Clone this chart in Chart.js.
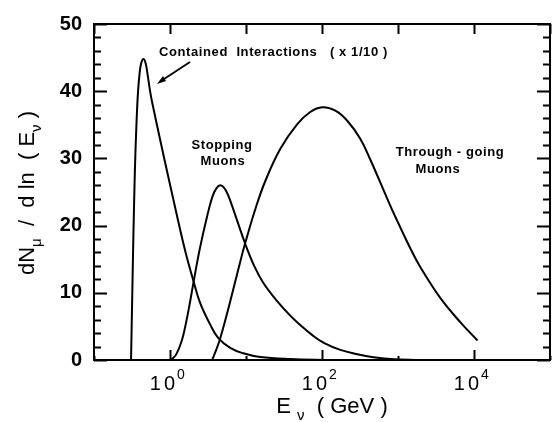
<!DOCTYPE html>
<html>
<head>
<meta charset="utf-8">
<script src="https://cdn.jsdelivr.net/npm/chart.js@4.4.0/dist/chart.umd.min.js"></script>
<style>
  body { margin: 0; background: #fff; }
  #wrap { width: 552px; height: 422px; }
</style>
</head>
<body>
<div id="wrap"><canvas id="c" width="552" height="422"></canvas></div>
<script>
// energies in GeV, values of dN/dln(E)
var containedE = [0.307, 0.3167, 0.3265, 0.3365, 0.3468, 0.3575, 0.3685, 0.3799, 0.3977, 0.4161, 0.4461, 0.477, 0.5068, 0.5468, 0.5809, 0.697, 0.862, 1.24, 1.58, 2.03, 2.49, 3.37, 4.30, 6.19, 9.19, 15.4, 38.2, 128];
var containedN = [0, 8, 16, 23, 29, 33.5, 37.2, 40, 42.6, 44.1, 44.8, 44.2, 42.5, 40.0, 38.4, 34.2, 29.4, 21.4, 16.3, 11.8, 8.5, 5.3, 3.3, 1.8, 1.0, 0.45, 0.15, 0];

var stoppingE = [1.034, 1.203, 1.431, 1.63, 1.84, 2.141, 2.493, 3.053, 3.587, 4.05, 4.572, 5.162, 5.829, 6.58, 7.892, 9.761, 12.82, 16.85, 25.53, 38.22, 51.78, 74.5, 107.2, 174.2, 291.8, 474.1, 794, 1973];
var stoppingN = [0, 0.8, 2.9, 5.6, 8.7, 12.9, 16.8, 21.2, 24.2, 25.5, 26.0, 25.6, 24.5, 22.9, 20.3, 17.3, 14.0, 11.5, 8.8, 6.6, 5.2, 3.7, 2.5, 1.5, 0.85, 0.4, 0.15, 0];

var throughE = [3.587, 4.05, 4.572, 6.193, 8.388, 9.761, 13.22, 17.9, 28.2, 47.3, 70.1, 101, 150, 215, 320, 433, 586, 818, 1076, 1456, 1972, 3619, 6637, 11120];
var throughN = [0, 1.5, 3.2, 8.7, 14.6, 17.4, 22.4, 26.6, 31.4, 35.1, 36.9, 37.6, 37.1, 35.6, 32.9, 29.8, 26.4, 22.6, 19.7, 16.6, 13.8, 9.2, 5.6, 2.9];

var xLabelValues = [1, 100, 10000];
var xLabelExp = ['0', '2', '4'];
var xDecades = [0.1, 1, 10, 100, 1000, 10000, 100000];
var yTicks = [0, 10, 20, 30, 40, 50];

var FONT = '"Liberation Sans", Arial, sans-serif';

function pts(xs, ys) {
    return xs.map(function(x, i) { return { x: x, y: ys[i] }; });
}

function line(ctx, x1, y1, x2, y2) {
    ctx.beginPath();
    ctx.moveTo(x1, y1);
    ctx.lineTo(x2, y2);
    ctx.stroke();
}

// draws a run of text pieces, some of them as subscripts, centred on 0
function drawPieces(ctx, pieces, size) {
    var w = 0;
    pieces.forEach(function(p) {
        ctx.font = (p.sub ? Math.round(size * 0.7) : size) + 'px ' + FONT;
        p.w = ctx.measureText(p.t).width;
        w += p.w;
    });
    var x = -w / 2;
    pieces.forEach(function(p) {
        ctx.font = (p.sub ? Math.round(size * 0.7) : size) + 'px ' + FONT;
        ctx.fillText(p.t, x, p.sub ? size * 0.3 : 0);
        x += p.w;
    });
}

var framePlugin = {
    id: 'frame',
    afterDatasetsDraw: function(chart) {
        var ctx = chart.ctx, a = chart.chartArea;
        var xs = chart.scales.x, ys = chart.scales.y;
        ctx.save();
        ctx.strokeStyle = '#000';
        ctx.fillStyle = '#000';
        ctx.lineWidth = 2;
        ctx.strokeRect(a.left, a.top, a.right - a.left, a.bottom - a.top);

        // ticks on left and right, pointing inward
        for (var v = 0; v <= 50; v += 2) {
            var y = Math.round(ys.getPixelForValue(v)) + 0.5;
            var len = v % 10 === 0 ? 13 : 7;
            line(ctx, a.left, y, a.left + len, y);
            line(ctx, a.right, y, a.right - len, y);
        }
        // top and bottom decade ticks
        xDecades.forEach(function(d, i) {
            var x = Math.round(xs.getPixelForValue(d)) + 0.5;
            line(ctx, x, a.top, x, a.top + 10);
            line(ctx, x, a.bottom, x, a.bottom - (i % 2 === 1 ? 10 : 4));
        });

        // x tick labels with superscripts
        ctx.textBaseline = 'alphabetic';
        xLabelValues.forEach(function(v, i) {
            var x = xs.getPixelForValue(v);
            ctx.font = '20px ' + FONT;
            ctx.letterSpacing = '3px';
            ctx.textAlign = 'right';
            ctx.fillText('10', x + 8, 390);
            ctx.letterSpacing = '0px';
            ctx.font = '14px ' + FONT;
            ctx.textAlign = 'left';
            ctx.fillText(xLabelExp[i], x + 7, 379);
        });

        // axis titles
        ctx.textAlign = 'left';
        ctx.save();
        ctx.translate(332, 413);
        drawPieces(ctx, [{ t: 'E ' }, { t: '\u03BD', sub: true }, { t: '  ( GeV )' }], 22);
        ctx.restore();

        ctx.save();
        ctx.translate(34, 193);
        ctx.rotate(-Math.PI / 2);
        drawPieces(ctx, [{ t: 'dN' }, { t: '\u03BC', sub: true }, { t: '  /  d ln  ( E' }, { t: '\u03BD', sub: true }, { t: ' )' }], 22);
        ctx.restore();

        // curve annotations
        ctx.font = 'bold 13px ' + FONT;
        ctx.textBaseline = 'middle';
        ctx.textAlign = 'left';
        ctx.letterSpacing = '0.6px';
        ctx.fillText('Contained  Interactions   ( x 1/10 )', 159, 52);
        ctx.textAlign = 'center';
        ctx.fillText('Stopping', 222, 145);
        ctx.fillText('Muons', 223, 161);
        ctx.fillText('Through - going', 450, 152);
        ctx.fillText('Muons', 438, 169);
        ctx.letterSpacing = '0px';

        // arrow to the contained curve
        ctx.lineWidth = 1.8;
        line(ctx, 190, 62, 161, 81);
        ctx.beginPath();
        ctx.moveTo(157, 84);
        ctx.lineTo(163, 76);
        ctx.lineTo(166, 81);
        ctx.closePath();
        ctx.fill();
        ctx.restore();
    }
};

function curve(data) {
    return {
        data: data,
        borderColor: '#000',
        borderWidth: 2,
        pointRadius: 0,
        fill: false,
        tension: 0.4
    };
}

new Chart(document.getElementById('c'), {
    type: 'line',
    data: {
        datasets: [
            curve(pts(containedE, containedN)),
            curve(pts(stoppingE, stoppingN)),
            curve(pts(throughE, throughN))
        ]
    },
    options: {
        responsive: false,
        animation: false,
        devicePixelRatio: 1,
        layout: { padding: { top: 17, right: 2, left: 0, bottom: 0 } },
        plugins: { legend: { display: false }, tooltip: { enabled: false } },
        scales: {
            x: {
                type: 'logarithmic',
                min: 0.1,
                max: 100000,
                grid: { display: false },
                border: { display: false },
                ticks: { display: false },
                afterFit: function(scale) { scale.height = 62; }
            },
            y: {
                min: 0,
                max: 50,
                grid: { display: false, drawTicks: false },
                border: { display: false },
                afterBuildTicks: function(scale) {
                    scale.ticks = yTicks.map(function(v) { return { value: v }; });
                },
                ticks: {
                    color: '#000',
                    padding: 12,
                    font: { family: FONT, size: 20, weight: 'bold' }
                },
                afterFit: function(scale) { scale.width = 94; }
            }
        }
    },
    plugins: [framePlugin]
});
</script>
</body>
</html>
